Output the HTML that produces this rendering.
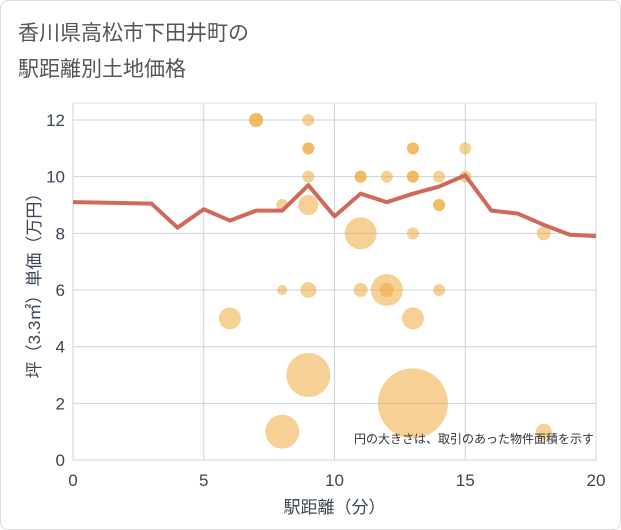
<!DOCTYPE html>
<html><head><meta charset="utf-8"><style>
body{margin:0;background:#fff;}
#wrap{position:relative;width:621px;height:530px;background:#fff;font-family:"Liberation Sans","Noto Sans CJK JP",sans-serif;}
#card{position:absolute;left:0;top:0;width:619px;height:528px;border:1px solid #ddd;border-radius:8px;}
</style></head><body>
<div id="wrap">
<div id="card"></div>
<svg id="svg" width="621" height="530" style="position:absolute;left:0;top:0">
<text x="18" y="40" font-size="21" fill="#555" font-family="Liberation Sans, Noto Sans CJK JP, sans-serif">香川県高松市下田井町の</text>
<text x="18" y="76" font-size="21" fill="#555" font-family="Liberation Sans, Noto Sans CJK JP, sans-serif">駅距離別土地価格</text>
<g id="plot"></g>
</svg>
</div>
<script>
const xTicks=[0,5,10,15,20];
const yTicks=[0,2,4,6,8,10,12];
const bubbleX=[7,9,9,13,15,9,11,12,13,14,15,8,9,14,11,13,18,8,9,11,12,14,6,13,9,13,8,18,12,7,9,11,13,13,14];
const bubbleY=[12,12,11,11,11,10,10,10,10,10,10,9,9,9,8,8,8,6,6,6,6,6,5,5,3,2,1,1,6,12,11,10,11,10,9];
const bubbleR=[7,6,6,6,6,6,6,6,6,6,6,6,10,6,16,6,7,5,8,7,16,6,11,11,22,35,17,8,7,7,6,6,6,6,6];
const lineX=[0,3,4,5,6,7,8,9,10,11,12,13,14,15,16,17,18,19,20];
const lineY=[9.1,9.05,8.2,8.85,8.45,8.8,8.8,9.7,8.6,9.4,9.1,9.4,9.65,10.05,8.8,8.7,8.3,7.95,7.9];
const X0=73,X1=596,Y0=460,Y1=120;
const sx=v=>X0+(X1-X0)*v/20;
const sy=v=>Y0-(Y0-Y1)*v/12;
const NS="http://www.w3.org/2000/svg";
const g=document.getElementById('plot');
function mk(t,a){const e=document.createElementNS(NS,t);for(const k in a)e.setAttribute(k,a[k]);g.appendChild(e);return e;}
const bg=mk('rect',{x:X0,y:103,width:X1-X0,height:Y0-103,fill:'#fff',stroke:'#dde3ea'});


xTicks.forEach(v=>{
 const l=mk('line',{x1:sx(v),x2:sx(v),y1:103,y2:Y0,stroke:'#c8d4e0','stroke-width':1});
 
 
 const t=mk('text',{x:sx(v),y:Y0+26,'text-anchor':'middle','font-size':17,fill:'#3a4654'});t.textContent=v;
 
 
});
yTicks.forEach(v=>{
 const l=mk('line',{x1:X0,x2:X1,y1:sy(v),y2:sy(v),stroke:'#c8d4e0','stroke-width':1});
 
 
 const t=mk('text',{x:X0-8,y:sy(v)+6,'text-anchor':'end','font-size':17,fill:'#3a4654'});t.textContent=v;
 
 
});
bubbleX.forEach((v,i)=>{
 const c=mk('circle',{cx:sx(v),cy:sy(bubbleY[i]),r:bubbleR[i],fill:'#eeaa3c','fill-opacity':0.55});
 
 
});
const pl=mk('polyline',{points:lineX.map((v,i)=>sx(v)+','+sy(lineY[i])).join(' '),fill:'none',stroke:'#d0695a','stroke-width':4,'stroke-linejoin':'round'});


const note=mk('text',{x:594,y:443,'text-anchor':'end','font-size':12,fill:'#333'});note.textContent='円の大きさは、取引のあった物件面積を示す';


const xt=mk('text',{x:(X0+X1)/2,y:513,'text-anchor':'middle','font-size':17,fill:'#3a4654'});xt.textContent='駅距離（分）';


const yt=mk('text',{x:0,y:0,'text-anchor':'middle','font-size':17,fill:'#3a4654',transform:'translate(40,'+((103+Y0)/2)+') rotate(-90)'});yt.textContent='坪（3.3㎡）単価（万円）';


</script>
</body></html>
